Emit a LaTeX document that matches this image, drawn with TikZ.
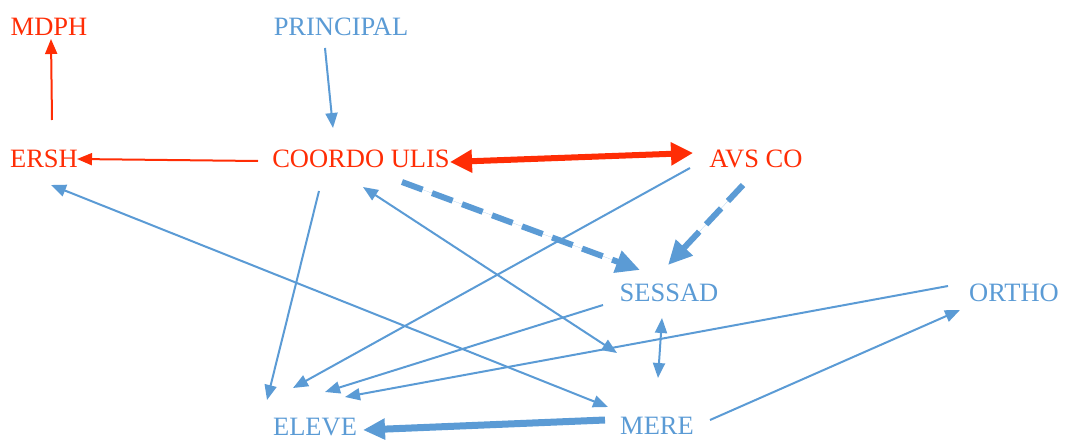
\documentclass[tikz,border=0pt]{standalone}
\usepackage{fontspec}
\setmainfont{Liberation Serif}
\usetikzlibrary{arrows.meta}
\definecolor{cred}{RGB}{255,45,5}
\definecolor{cblue}{RGB}{91,155,213}
\begin{document}
\begin{tikzpicture}[x=1pt,y=-1pt,
  lbl/.style={inner sep=0pt,font=\fontsize{26.5}{30}\selectfont},
  rlbl/.style={lbl,text=cred},
  blbl/.style={lbl,text=cblue},
  thin/.style={line width=2pt,-{Triangle[length=15pt,width=12pt]}},
  bthin/.style={thin,draw=cblue,fill=cblue},
  rthin/.style={thin,draw=cred,fill=cred},
  bboth/.style={line width=2pt,draw=cblue,{Triangle[length=15pt,width=12pt]}-{Triangle[length=15pt,width=12pt]}},
  thickred/.style={line width=6pt,draw=cred,{Triangle[length=22pt,width=22pt]}-{Triangle[length=22pt,width=22pt]}},
  dashedblue/.style={line width=6pt,draw=cblue,dash pattern=on 22pt off 10pt,-{Triangle[length=24pt,width=22pt]}},
  thickblue/.style={line width=7pt,draw=cblue,-{Triangle[length=22pt,width=20pt]}}
]
\useasboundingbox (0,0) rectangle (1065,441);
\node[rlbl] (mdph) at (49,26.5) {MDPH};
\node[blbl] (principal) at (341,26.5) {PRINCIPAL};
\node[rlbl] (ersh) at (44,159) {ERSH};
\node[rlbl] (coordo) at (361,159) {COORDO ULIS};
\node[rlbl] (avs) at (756,159) {AVS CO};
\node[blbl] (sessad) at (669,293) {SESSAD};
\node[blbl] (ortho) at (1014,293) {ORTHO};
\node[blbl] (eleve) at (315,427) {ELEVE};
\node[blbl] (mere) at (657,426) {MERE};
% endpoints
\coordinate (a1s) at (52,120);  \coordinate (a1t) at (51,39);
\coordinate (a2s) at (325,48);  \coordinate (a2t) at (333,128);
\coordinate (a3s) at (258,161); \coordinate (a3t) at (77,159);
\coordinate (a4s) at (450,162); \coordinate (a4t) at (693,153);
\coordinate (a5s) at (402,182); \coordinate (a5t) at (640,270);
\coordinate (a6s) at (743,185); \coordinate (a6t) at (668,265);
\coordinate (a7s) at (690,168); \coordinate (a7t) at (293,388);
\coordinate (a8s) at (319,191); \coordinate (a8t) at (267,400);
\coordinate (a9s) at (51,185);  \coordinate (a9t) at (608,407);
\coordinate (a10s) at (363,187); \coordinate (a10t) at (617,353);
\coordinate (a11s) at (603,305); \coordinate (a11t) at (325,392);
\coordinate (a12s) at (948,286); \coordinate (a12t) at (345,397);
\coordinate (a13s) at (662,318); \coordinate (a13t) at (658,378);
\coordinate (a14s) at (605,420); \coordinate (a14t) at (363,430);
\coordinate (a15s) at (710,420); \coordinate (a15t) at (960,310);
% connectors
\draw[rthin] (a1s) -- (a1t);
\draw[bthin] (a2s) -- (a2t);
\draw[rthin] (a3s) -- (a3t);
\draw[thickred,fill=cred] (a4s) -- (a4t);
\draw[dashedblue,fill=cblue] (a5s) -- (a5t);
\draw[dashedblue,fill=cblue] (a6s) -- (a6t);
\draw[bthin] (a7s) -- (a7t);
\draw[bthin] (a8s) -- (a8t);
\draw[bboth,fill=cblue] (a9s) -- (a9t);
\draw[bboth,fill=cblue] (a10s) -- (a10t);
\draw[bthin] (a11s) -- (a11t);
\draw[bthin] (a12s) -- (a12t);
\draw[bboth,fill=cblue] (a13s) -- (a13t);
\draw[thickblue,fill=cblue] (a14s) -- (a14t);
\draw[bthin] (a15s) -- (a15t);
\end{tikzpicture}
\end{document}
